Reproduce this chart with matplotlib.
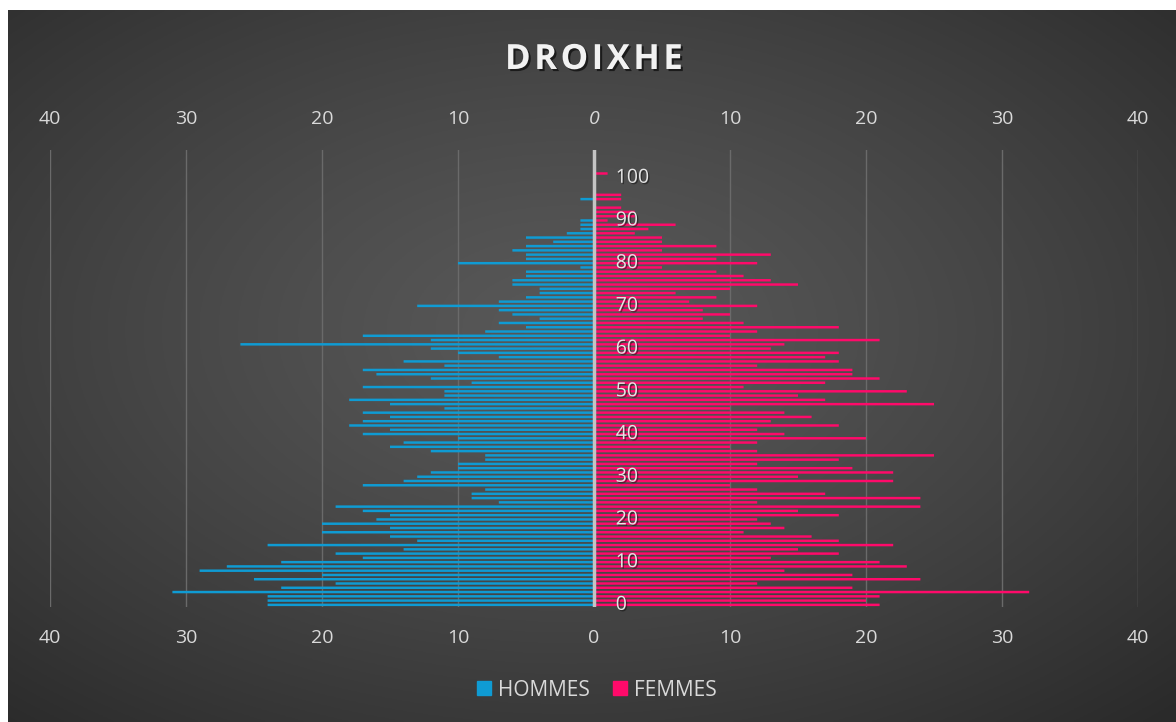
import numpy as np
import matplotlib
matplotlib.use("Agg")
import matplotlib.pyplot as plt
from matplotlib.patches import Patch
import matplotlib.patheffects as pe

plt.rcParams['font.family'] = ['Open Sans', 'DejaVu Sans']

# population par âge (0 .. 106)
ages = list(range(0, 107))
hommes = [24, 24, 24, 31, 23, 19, 25, 20, 29, 27,
          23, 17, 19, 14, 24, 13, 15, 20, 15, 20,
          16, 15, 17, 19, 7, 9, 9, 8, 17, 14,
          13, 12, 10, 10, 8, 8, 12, 15, 14, 10,
          17, 15, 18, 17, 15, 17, 11, 15, 18, 11,
          11, 17, 9, 12, 16, 17, 11, 14, 7, 10,
          12, 26, 12, 17, 8, 5, 7, 4, 6, 7,
          13, 7, 5, 4, 4, 6, 6, 5, 5, 1,
          10, 5, 5, 6, 5, 3, 5, 2, 1, 1,
          1, 0, 0, 0, 0, 1, 0, 0, 0, 0,
          0, 0, 0, 0, 0, 0, 0]
femmes = [21, 20, 21, 32, 19, 12, 24, 19, 14, 23,
          21, 13, 18, 15, 22, 18, 16, 11, 14, 13,
          12, 18, 15, 24, 12, 24, 17, 12, 10, 22,
          15, 22, 19, 12, 18, 25, 12, 10, 12, 20,
          14, 12, 18, 13, 16, 14, 10, 25, 17, 15,
          23, 11, 17, 21, 19, 19, 12, 18, 17, 18,
          13, 14, 21, 10, 12, 18, 11, 8, 10, 8,
          12, 7, 9, 6, 10, 15, 13, 11, 9, 5,
          12, 9, 13, 5, 9, 5, 5, 3, 4, 6,
          1, 3, 3, 2, 0, 2, 2, 0, 0, 0,
          0, 1, 0, 0, 0, 0, 0]
age_labels = list(range(0, 101, 10))
x_ticks = [-40, -30, -20, -10, 0, 10, 20, 30, 40]

blue = '#0f9bd3'
pink = '#ff0a6a'
txt = '#d9d9d9'

fig = plt.figure(figsize=(11.76, 7.22), dpi=100)
fig.patch.set_facecolor('white')

# fond dégradé radial
bg = fig.add_axes([8 / 1176, 0, 1168 / 1176, 712 / 722])
bg.axis('off')
yy, xx = np.mgrid[0:1:300j, 0:1:480j]
r = np.sqrt(((xx - 0.48) / 0.75) ** 2 + ((yy - 0.45) / 0.75) ** 2)
r = np.clip(r, 0, 1)
shade = 0.345 - 0.18 * r ** 1.3
bg.imshow(np.dstack([shade] * 3), aspect='auto', extent=[0, 1, 0, 1])

ax = fig.add_axes([50 / 1176, 1 - 607 / 722, 1088 / 1176, 457 / 722])
ax.set_facecolor('none')
ax.barh(ages, [-h for h in hommes], height=0.58, color=blue, zorder=3, snap=False)
ax.barh(ages, femmes, height=0.58, color=pink, zorder=3, snap=False)
ax.axvline(0, color='#c4c4c4', lw=2.5, zorder=4)

for a in age_labels:
    ax.text(1.6, a, str(a), ha='left', va='center', fontsize=14, color='#e6e6e6', zorder=6,
            path_effects=[pe.withSimplePatchShadow(offset=(1, -1), shadow_rgbFace='black', alpha=0.4)])

ax.set_xlim(-40, 40)
ax.set_ylim(-0.5, 106.5)
ax.set_xticks(x_ticks)
ax.set_xticklabels([str(abs(v)) for v in x_ticks])
ax.set_yticks([])
ax.tick_params(axis='x', top=True, labeltop=True, bottom=True, labelbottom=True,
               length=0, labelsize=14, labelcolor=txt, pad=16)
ax.xaxis.get_major_ticks()[4].label2.set_style('italic')
ax.xaxis.grid(True, color='#6a6a6a', lw=1)
ax.set_axisbelow(True)
for s in ax.spines.values():
    s.set_visible(False)

fig.text(594 / 1176, 1 - 60 / 722, '\u200a'.join('DROIXHE'), ha='center', va='center', fontsize=25,
         fontweight='bold', color='#f2f2f2',
         path_effects=[pe.withSimplePatchShadow(offset=(1.5, -1.5), shadow_rgbFace='black', alpha=0.6)])

handles = [Patch(color=blue, label='HOMMES'), Patch(color=pink, label='FEMMES')]
leg = fig.legend(handles=handles, loc='center', bbox_to_anchor=(597 / 1176, 1 - 690 / 722),
                 ncol=2, frameon=False, fontsize=15, handlelength=0.65, handleheight=0.65,
                 handletextpad=0.35, columnspacing=1.1)
for t in leg.get_texts():
    t.set_color(txt)

fig.savefig('out.png', dpi=100)
